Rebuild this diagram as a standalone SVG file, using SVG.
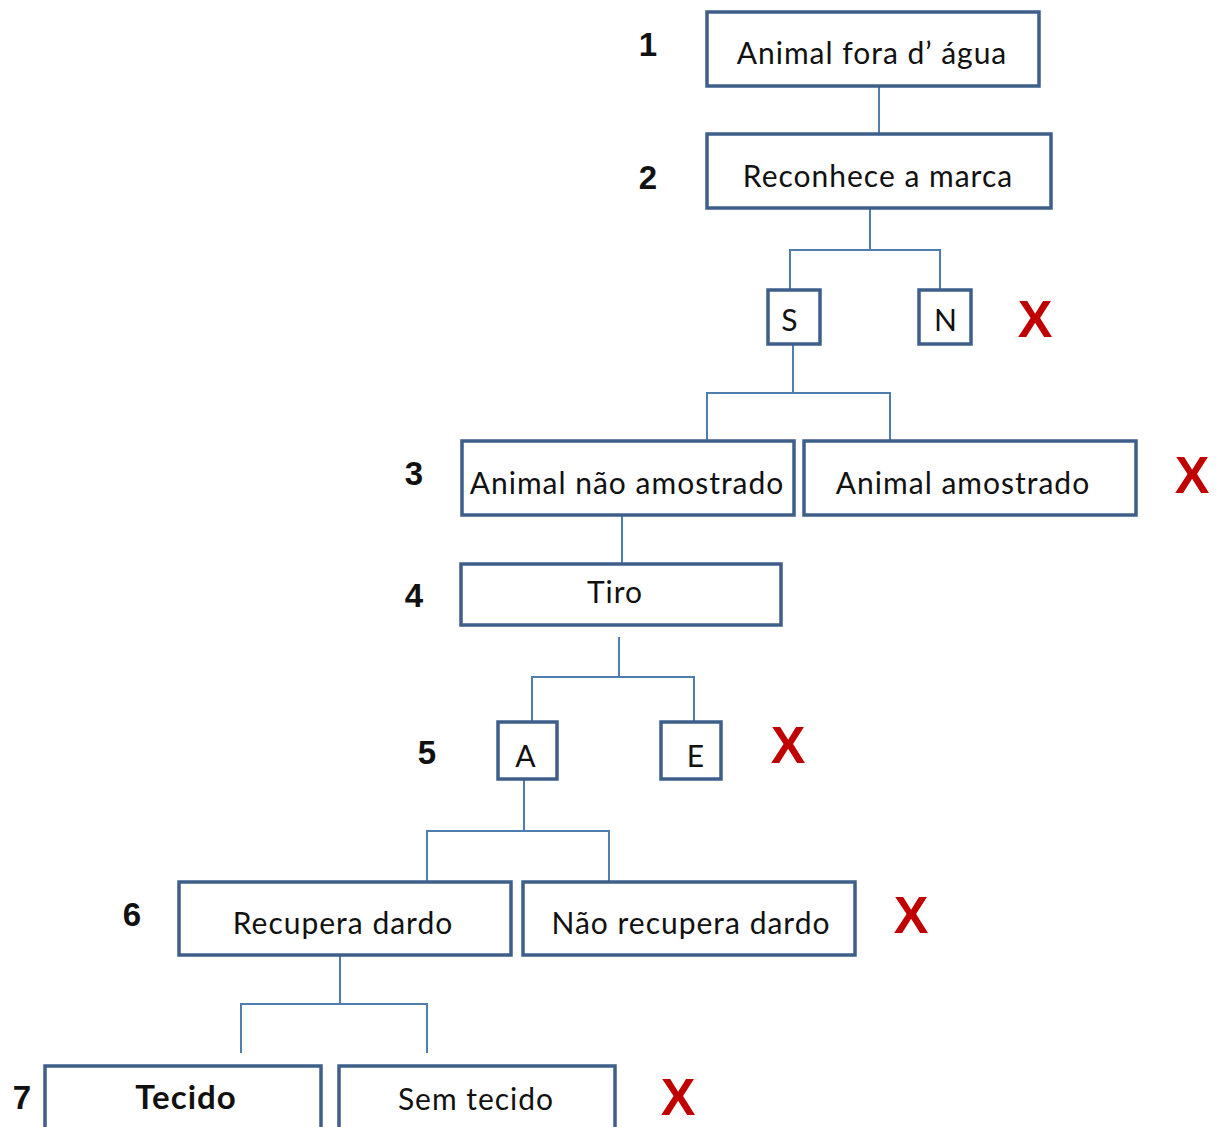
<svg xmlns="http://www.w3.org/2000/svg" width="1222" height="1127" viewBox="0 0 1222 1127">
<style>
.box{fill:#fff;stroke:#3e5f8a;stroke-width:3.5}
.t{font-family:Lato,"Open Sans",sans-serif;font-size:30px;letter-spacing:1px;fill:#111;text-anchor:middle}
.b{font-weight:bold;font-size:33px}
.num{font-family:"Liberation Sans",Arial,sans-serif;font-weight:bold;font-size:33px;fill:#111;text-anchor:middle}
.x{font-family:"Liberation Sans",Arial,sans-serif;font-weight:bold;font-size:52px;fill:#c00000;text-anchor:middle}
.c{fill:none;stroke:#4f7db0;stroke-width:2}
</style>
<rect width="1222" height="1127" fill="#fff"/>
<g id="connectors">
<path class="c" d="M879 86V133"/>
<path class="c" d="M870 208V250M790 290V250H940V290"/>
<path class="c" d="M793 344V393M707 441V393H890V441"/>
<path class="c" d="M622 515V564"/>
<path class="c" d="M619 637V677M532 722V677H694V722"/>
<path class="c" d="M524 779V831M427 882V831H609V882"/>
<path class="c" d="M340 955V1004M241 1053V1004H427V1053"/>
</g>
<g id="n1"><rect class="box" x="707" y="12" width="332" height="74"/><text class="t" x="872" y="64">Animal fora d’ água</text></g>
<g id="n2"><rect class="box" x="707" y="134" width="344" height="74"/><text class="t" x="878" y="187">Reconhece a marca</text></g>
<g id="nS"><rect class="box" x="768" y="290" width="52" height="54"/><text class="t" x="790" y="331">S</text></g>
<g id="nN"><rect class="box" x="919" y="290" width="52" height="54"/><text class="t" x="946" y="331">N</text></g>
<g id="n3a"><rect class="box" x="462" y="441" width="332" height="74"/><text class="t" x="627" y="494">Animal não amostrado</text></g>
<g id="n3b"><rect class="box" x="804" y="441" width="332" height="74"/><text class="t" x="963" y="494">Animal amostrado</text></g>
<g id="n4"><rect class="box" x="461" y="564" width="320" height="61"/><text class="t" x="615" y="603">Tiro</text></g>
<g id="nA"><rect class="box" x="498" y="722" width="59" height="57"/><text class="t" x="526" y="767">A</text></g>
<g id="nE"><rect class="box" x="661" y="722" width="60" height="57"/><text class="t" x="696" y="767">E</text></g>
<g id="n6a"><rect class="box" x="179" y="882" width="332" height="73"/><text class="t" x="343" y="934">Recupera dardo</text></g>
<g id="n6b"><rect class="box" x="523" y="882" width="332" height="73"/><text class="t" x="691" y="934">Não recupera dardo</text></g>
<g id="n7a"><rect class="box" x="45" y="1066" width="276" height="70"/><text class="t b" x="186" y="1109">Tecido</text></g>
<g id="n7b"><rect class="box" x="339" y="1066" width="276" height="70"/><text class="t" x="476" y="1110">Sem tecido</text></g>
<g id="labels">
<text class="num" x="648" y="56">1</text>
<text class="num" x="648" y="189">2</text>
<text class="num" x="414" y="485">3</text>
<text class="num" x="414" y="607">4</text>
<text class="num" x="427" y="764">5</text>
<text class="num" x="132" y="926">6</text>
<text class="num" x="22" y="1109">7</text>
</g>
<g id="marks">
<text class="x" x="1035" y="337">X</text>
<text class="x" x="1192" y="493">X</text>
<text class="x" x="788" y="763">X</text>
<text class="x" x="911" y="933">X</text>
<text class="x" x="678" y="1115">X</text>
</g>
</svg>
